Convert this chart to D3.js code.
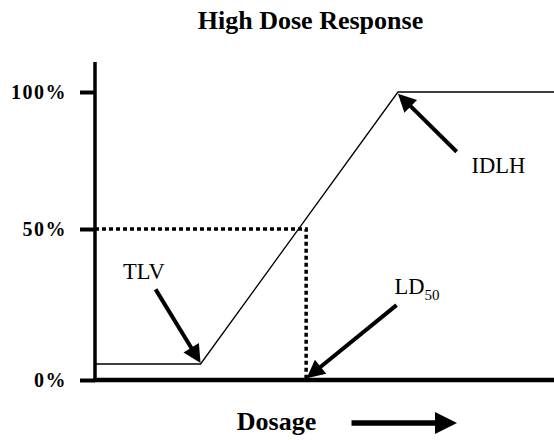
<!DOCTYPE html>
<html>
<head>
<meta charset="utf-8">
<script src="https://cdn.jsdelivr.net/npm/d3@7"></script>
<style>
  body { margin: 0; background: #fff; }
  svg { display: block; font-family: "Liberation Serif", "Times New Roman", serif; }
  svg text { font-family: "Liberation Serif", "Times New Roman", serif; }
</style>
</head>
<body>
<svg id="chart" width="554" height="440"></svg>
<script>
'use strict';

// dose-response curve (dose in arbitrary units, response in %)
var dose = [0, 23, 66, 100];
var response = [5.3, 5.3, 100, 100];

// y axis ticks
var yTicks = [0, 50, 100];
var yTickLabels = ['0%', '50%', '100%'];

// LD50 guide (dose where response is 50%)
var ld50Dose = 46;

// annotation arrows: label, tail [dose, resp], tip [dose, resp]
var noteLabels = ['TLV', 'IDLH', 'LD'];
var noteTails = [[13.2, 30], [78.8, 78.2], [65.7, 24.8]];
var noteTips = [[23, 5.6], [66, 99.4], [46.1, 0.6]];

var svg = d3.select('#chart');

var x = d3.scaleLinear().domain([0, 100]).range([95, 554]);
// the drawing isn't evenly spaced, so y is piecewise
var y = d3.scaleLinear().domain([0, 50, 100]).range([380, 229, 92]);

// title
svg.append('text')
    .attr('x', 310.5).attr('y', 29)
    .attr('text-anchor', 'middle')
    .style('font-size', '26px').style('font-weight', 'bold')
    .text('High Dose Response');

// dotted LD50 guide
svg.append('path')
    .attr('d', 'M' + x(0) + ',' + y(50) + 'H' + x(ld50Dose) + 'V' + y(0))
    .attr('fill', 'none')
    .attr('stroke', '#000')
    .attr('stroke-width', 3.5)
    .attr('stroke-dasharray', '4,3');

// response curve
var line = d3.line()
    .x(function(d) { return x(d[0]); })
    .y(function(d) { return y(d[1]); });
svg.append('path')
    .datum(d3.zip(dose, response))
    .attr('d', line)
    .attr('fill', 'none')
    .attr('stroke', '#000')
    .attr('stroke-width', 1.3);

// y axis with ticks
var yAxis = d3.axisLeft(y)
    .tickValues(yTicks)
    .tickSize(15)
    .tickPadding(13)
    .tickFormat(function(d, i) { return yTickLabels[i]; });
var gy = svg.append('g')
    .attr('transform', 'translate(' + x(0) + ',0)')
    .call(yAxis)
    .attr('font-family', null)
    .attr('font-size', null);
gy.select('.domain').remove();
gy.selectAll('.tick line').attr('stroke', '#000').attr('stroke-width', 4);
gy.selectAll('.tick text')
    .attr('dy', '0.3em')
    .style('font-size', '20px')
    .style('font-weight', 'bold')
    .style('letter-spacing', '1.5px')
    .attr('fill', '#000');

// axis lines
svg.append('line')
    .attr('x1', x(0)).attr('x2', x(0))
    .attr('y1', 62).attr('y2', y(0) + 2)
    .attr('stroke', '#000').attr('stroke-width', 3.5);
svg.append('line')
    .attr('x1', x(0) - 1.5).attr('x2', x(100))
    .attr('y1', y(0)).attr('y2', y(0))
    .attr('stroke', '#000').attr('stroke-width', 4.5);

// draws a thick arrow with a filled triangular head
function arrow(g, x1, y1, x2, y2, width, headLen, headWid) {
    var dx = x2 - x1, dy = y2 - y1;
    var len = Math.sqrt(dx * dx + dy * dy);
    var ux = dx / len, uy = dy / len;
    var bx = x2 - ux * headLen, by = y2 - uy * headLen;
    g.append('line')
        .attr('x1', x1).attr('y1', y1)
        .attr('x2', bx + ux * 1).attr('y2', by + uy * 1)
        .attr('stroke', '#000').attr('stroke-width', width);
    g.append('path')
        .attr('d', 'M' + x2 + ',' + y2 +
            'L' + (bx - uy * headWid / 2) + ',' + (by + ux * headWid / 2) +
            'L' + (bx + uy * headWid / 2) + ',' + (by - ux * headWid / 2) + 'Z')
        .attr('fill', '#000');
}

var notes = svg.append('g');
noteLabels.forEach(function(lbl, i) {
    arrow(notes, x(noteTails[i][0]), y(noteTails[i][1]),
        x(noteTips[i][0]), y(noteTips[i][1]), 4, 18, 18);
});

// annotation labels
var labelStyle = function(t) {
    t.style('font-size', '22.5px').attr('fill', '#000');
};
svg.append('text').attr('x', 123).attr('y', 279).text('TLV').call(labelStyle);
svg.append('text').attr('x', 471.5).attr('y', 173).text('IDLH').call(labelStyle);
var ld = svg.append('text').attr('x', 394.5).attr('y', 293.5).call(labelStyle);
ld.append('tspan').text('LD');
ld.append('tspan').attr('dy', 6).style('font-size', '15px').text('50');

// x axis title with arrow
svg.append('text')
    .attr('x', 276.5).attr('y', 430)
    .attr('text-anchor', 'middle')
    .style('font-size', '26px').style('font-weight', 'bold')
    .text('Dosage');
arrow(svg, 351.5, 423, 457, 423, 5.3, 22, 22);
</script>
</body>
</html>
